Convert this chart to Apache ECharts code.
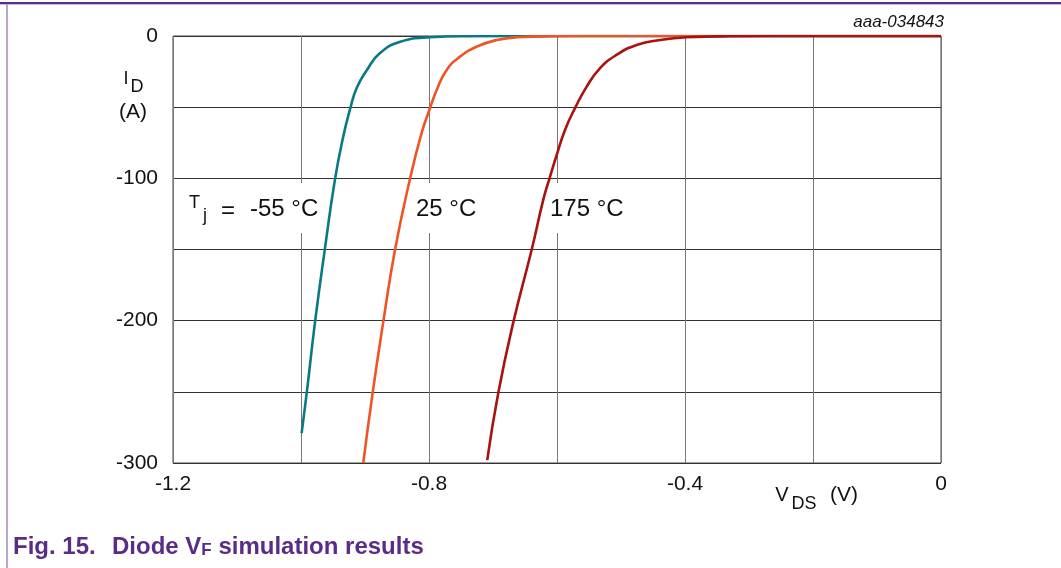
<!DOCTYPE html>
<html>
<head>
<meta charset="utf-8">
<script src="https://cdn.jsdelivr.net/npm/echarts@6/dist/echarts.min.js"></script>
<style>
html,body{margin:0;padding:0;background:#fff;}
#chart{width:1061px;height:568px;}
</style>
</head>
<body>
<div id="chart"></div>
<script>
// ---- data ----
// Tj = -55 °C
const vM55 = [-0.999, -0.991, -0.978, -0.9625, -0.947, -0.934, -0.923, -0.913, -0.897, -0.877, -0.845, -0.798, -0.74, -0.6, 0];
const iM55 = [-279, -250.6, -200.7, -149, -101, -70.7, -50.8, -36.5, -23.9, -12.2, -4, -0.9, -0.2, 0, 0];
// Tj = 25 °C
const v25 = [-0.9027, -0.888, -0.8714, -0.853, -0.830, -0.8115, -0.7984, -0.788, -0.7724, -0.7516, -0.7255, -0.694, -0.663, -0.6, -0.5, 0];
const i25 = [-300, -250.6, -200.7, -150, -101, -68, -50.8, -38, -23.9, -14.5, -7.5, -2.8, -0.9, -0.2, 0, 0];
// Tj = 175 °C
const v175 = [-0.709, -0.6917, -0.668, -0.6395, -0.6214, -0.612, -0.6005, -0.5875, -0.572, -0.5536, -0.533, -0.507, -0.4755, -0.439, -0.398, -0.33, -0.2, 0];
const i175 = [-298, -250.6, -200.7, -150, -115, -100.5, -83.6, -66, -50.8, -35.6, -22.7, -13.3, -6.3, -2.8, -0.9, -0.2, 0, 0];

const seriesNames = ['-55 °C', '25 °C', '175 °C'];
const xTickLabels = ['-1.2', '-0.8', '-0.4', '0'];
const yTickLabels = ['0', '-100', '-200', '-300'];

const zip = (xs, ys) => xs.map((x, k) => [x, ys[k]]);
const FONT = '"Liberation Sans", Arial, Helvetica, sans-serif';

const chart = echarts.init(document.getElementById('chart'), null, {renderer: 'canvas'});

function lineSeries(name, data, color) {
  return {
    name: name, type: 'line', data: data, showSymbol: false, symbol: 'none',
    smooth: 0.5, z: 2, clip: true,
    lineStyle: {color: color, width: 2.6}
  };
}

const purple = '#5b2c86';

chart.setOption({
  animation: false,
  backgroundColor: '#ffffff',
  grid: {left: 173, top: 36, width: 768, height: 427, show: true, borderColor: '#444', borderWidth: 1, backgroundColor: 'transparent'},
  xAxis: {
    type: 'value', min: -1.2, max: 0, interval: 0.2,
    axisLine: {show: false}, axisTick: {show: false},
    splitLine: {show: true, lineStyle: {color: '#777', width: 1}},
    axisLabel: {
      margin: 11, fontSize: 21, color: '#111', fontFamily: FONT,
      formatter: function (v) {
        const s = (Math.round(v * 10) / 10).toString();
        return xTickLabels.indexOf(s) >= 0 ? s : '';
      }
    }
  },
  yAxis: {
    type: 'value', min: -300, max: 0, interval: 50,
    axisLine: {show: false}, axisTick: {show: false},
    splitLine: {show: true, lineStyle: {color: '#333', width: 1}},
    axisLabel: {
      margin: 15, fontSize: 21, color: '#111', fontFamily: FONT,
      formatter: function (v) {
        const s = Math.round(v).toString();
        return yTickLabels.indexOf(s) >= 0 ? s : '';
      }
    }
  },
  series: [
    lineSeries(seriesNames[0], zip(vM55, iM55), '#0a7a82'),
    lineSeries(seriesNames[1], zip(v25, i25), '#ee5426'),
    lineSeries(seriesNames[2], zip(v175, i175), '#a8120f')
  ],
  graphic: [
    // frame
    {type: 'rect', z: 10, shape: {x: 0, y: 2, width: 1061, height: 2}, style: {fill: purple}},
    {type: 'rect', z: 10, shape: {x: 0, y: 4, width: 1061, height: 1}, style: {fill: '#cbbcdb'}},
    {type: 'rect', z: 10, shape: {x: 6, y: 4, width: 2, height: 564}, style: {fill: '#b9a5cf'}},
    // white boxes behind curve labels
    {type: 'rect', z: 1, shape: {x: 180, y: 183, width: 142, height: 50}, style: {fill: '#fff'}},
    {type: 'rect', z: 1, shape: {x: 410, y: 183, width: 72, height: 50}, style: {fill: '#fff'}},
    {type: 'rect', z: 1, shape: {x: 545, y: 183, width: 84, height: 50}, style: {fill: '#fff'}},
    // curve labels
    {type: 'text', z: 5, style: {text: 'T', x: 189, y: 203, fontSize: 18, fontFamily: FONT, fill: '#111', verticalAlign: 'middle'}},
    {type: 'text', z: 5, style: {text: 'j', x: 203, y: 216, fontSize: 18, fontFamily: FONT, fill: '#111', verticalAlign: 'middle'}},
    {type: 'text', z: 5, style: {text: '=', x: 228, y: 211, fontSize: 24, fontFamily: FONT, fill: '#111', align: 'center', verticalAlign: 'middle'}},
    {type: 'text', z: 5, style: {text: seriesNames[0], x: 250, y: 209, fontSize: 24, fontFamily: FONT, fill: '#111', verticalAlign: 'middle'}},
    {type: 'text', z: 5, style: {text: seriesNames[1], x: 416, y: 209, fontSize: 24, fontFamily: FONT, fill: '#111', verticalAlign: 'middle'}},
    {type: 'text', z: 5, style: {text: seriesNames[2], x: 550, y: 209, fontSize: 24, fontFamily: FONT, fill: '#111', verticalAlign: 'middle'}},
    // y axis name
    {type: 'text', z: 5, style: {text: 'I', x: 126, y: 79, fontSize: 18, fontFamily: FONT, fill: '#111', align: 'center', verticalAlign: 'middle'}},
    {type: 'text', z: 5, style: {text: 'D', x: 137, y: 87, fontSize: 18, fontFamily: FONT, fill: '#111', align: 'center', verticalAlign: 'middle'}},
    {type: 'text', z: 5, style: {text: '(A)', x: 133, y: 112, fontSize: 21, fontFamily: FONT, fill: '#111', align: 'center', verticalAlign: 'middle'}},
    // x axis name
    {type: 'text', z: 5, style: {text: 'V', x: 782, y: 495, fontSize: 20, fontFamily: FONT, fill: '#111', align: 'center', verticalAlign: 'middle'}},
    {type: 'text', z: 5, style: {text: 'DS', x: 804, y: 504, fontSize: 18, fontFamily: FONT, fill: '#111', align: 'center', verticalAlign: 'middle'}},
    {type: 'text', z: 5, style: {text: '(V)', x: 844, y: 495, fontSize: 21, fontFamily: FONT, fill: '#111', align: 'center', verticalAlign: 'middle'}},
    // figure id
    {type: 'text', z: 5, style: {text: 'aaa-034843', x: 944, y: 22, fontSize: 17, fontStyle: 'italic', fontFamily: FONT, fill: '#111', align: 'right', verticalAlign: 'middle'}},
    // caption
    {type: 'text', z: 5, style: {text: 'Fig. 15.', x: 13, y: 535, fontSize: 24, fontWeight: 'bold', fontFamily: FONT, fill: purple}},
    {type: 'text', z: 5, style: {
      x: 112, y: 535,
      text: '{a|Diode V}{s|F}{a| simulation results}',
      rich: {
        a: {fontSize: 24, fontWeight: 'bold', fontFamily: FONT, fill: purple, lineHeight: 24},
        s: {fontSize: 17, fontWeight: 'bold', fontFamily: FONT, fill: purple, lineHeight: 10, verticalAlign: 'bottom'}
      }
    }}
  ]
});
</script>
</body>
</html>
